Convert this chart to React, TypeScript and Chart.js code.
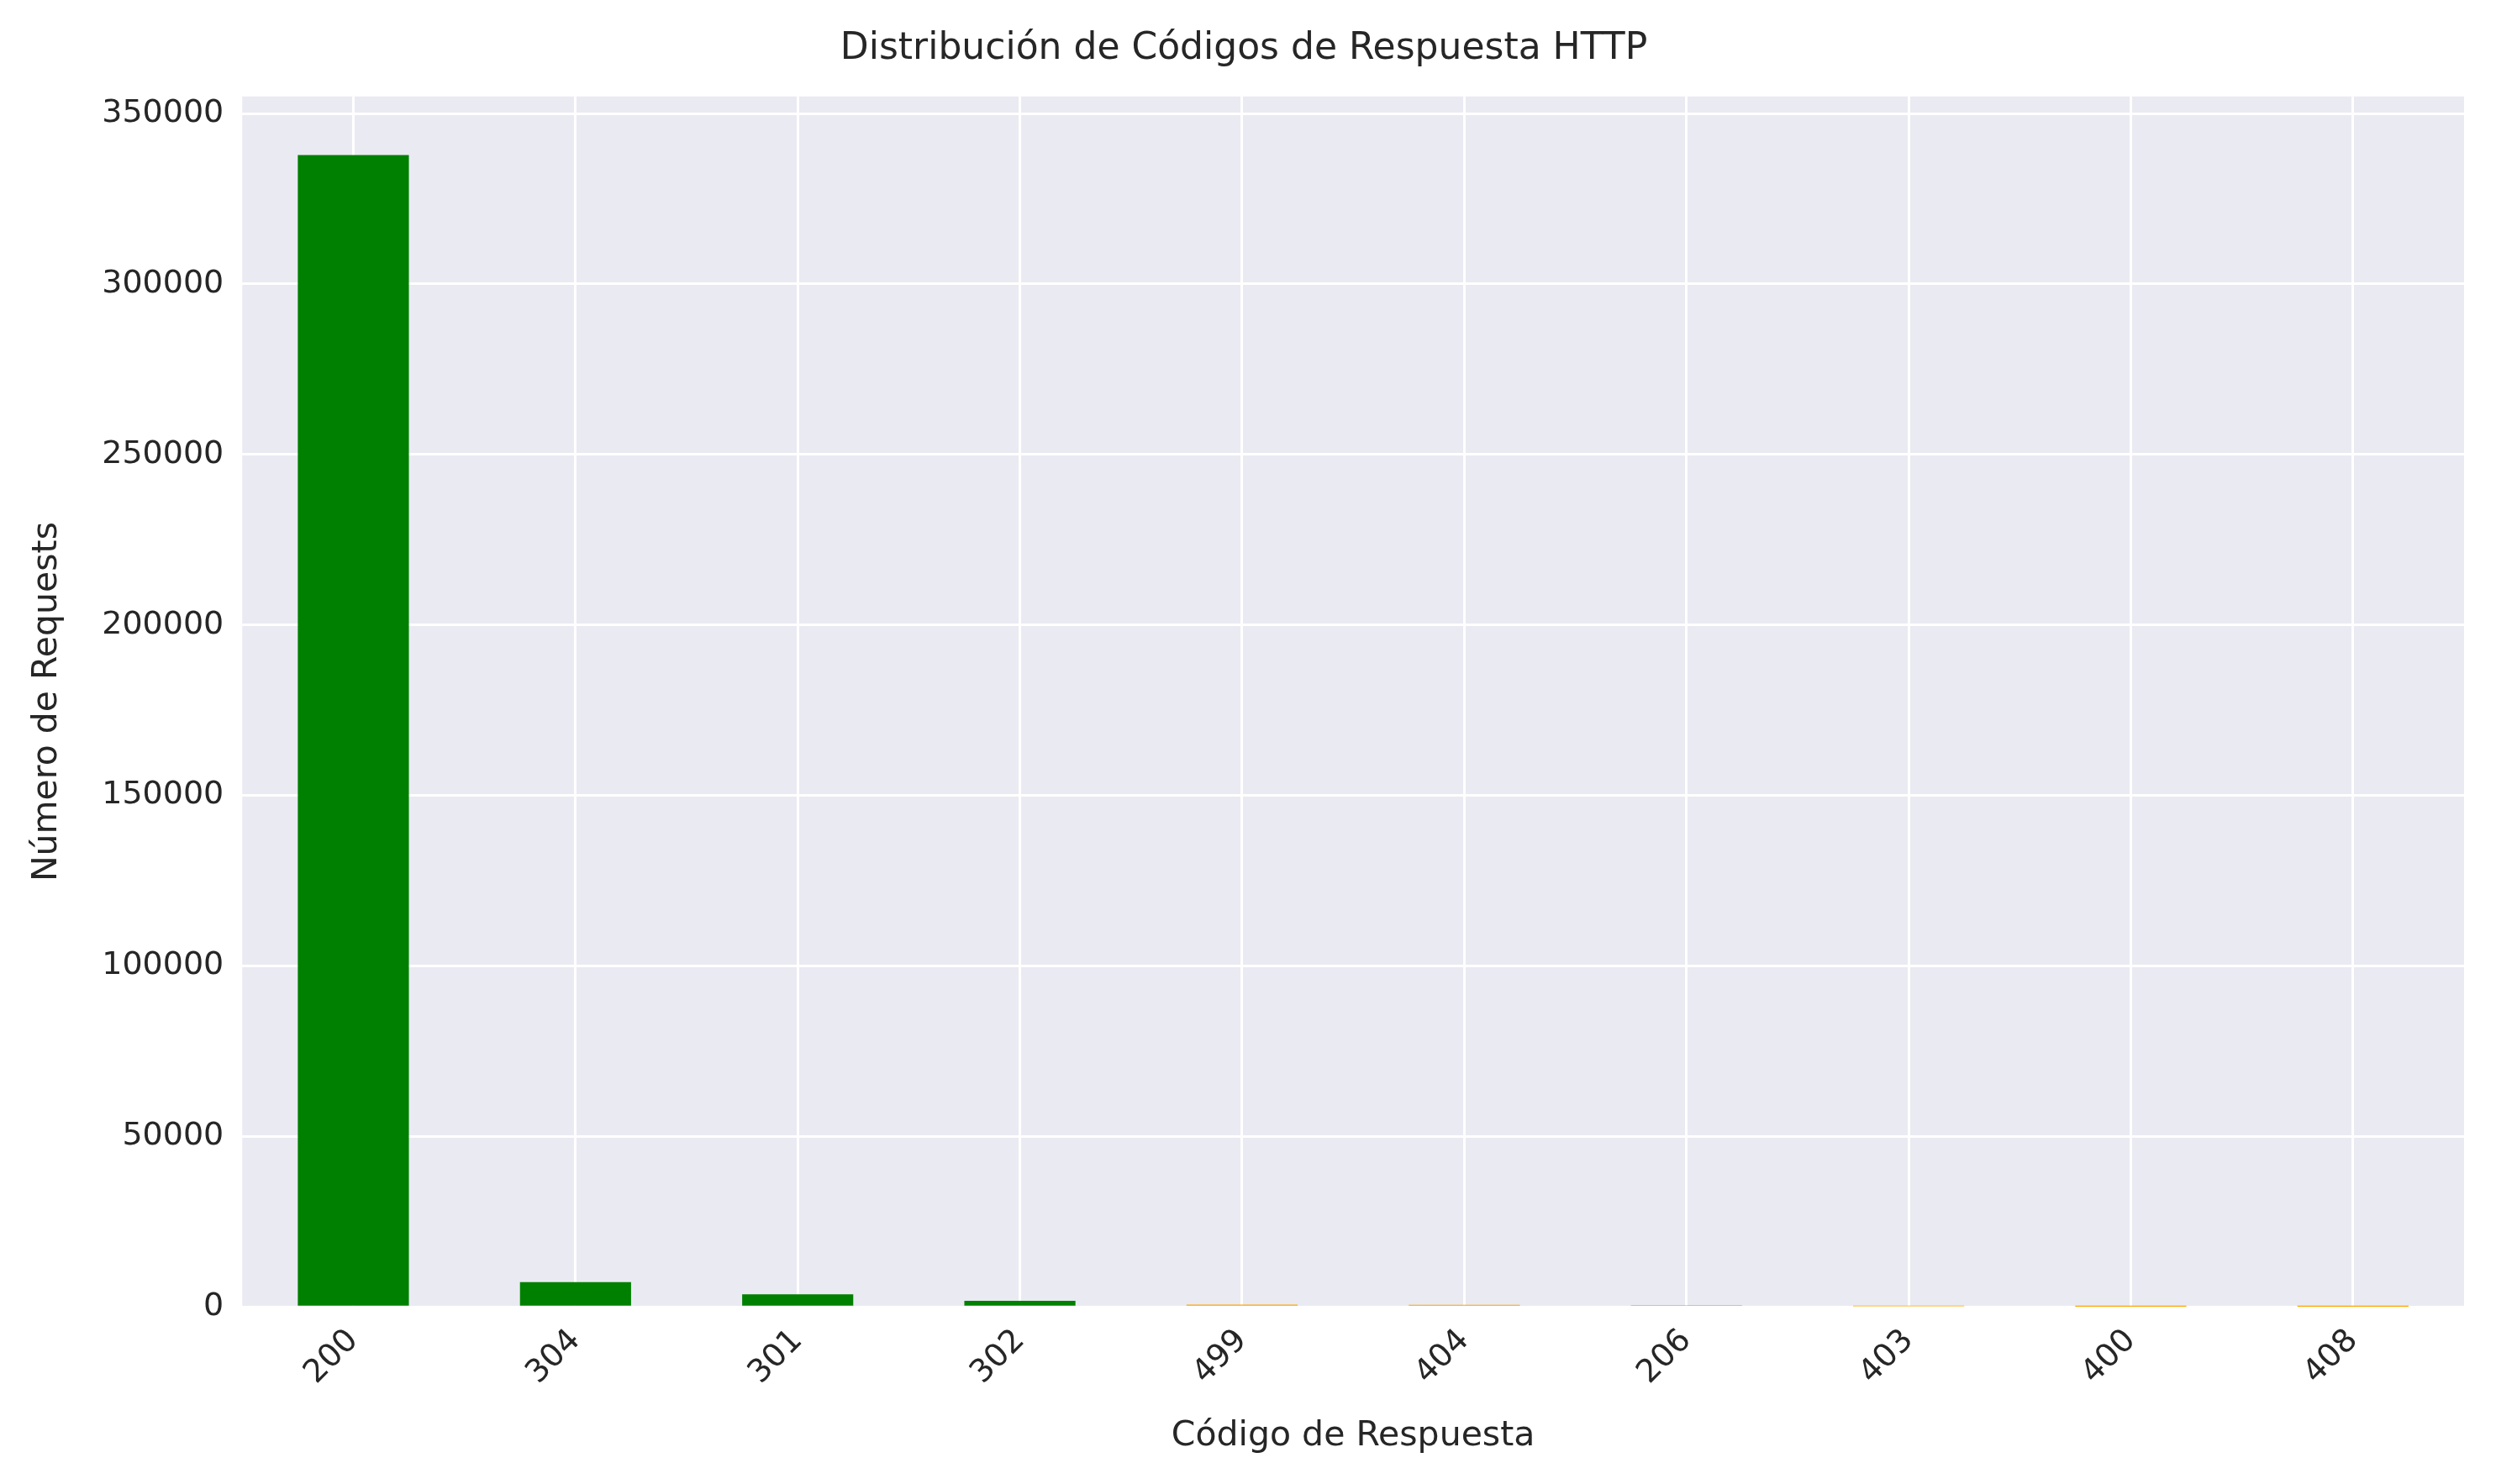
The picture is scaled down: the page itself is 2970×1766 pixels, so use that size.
import { useEffect, useRef } from "react";
import { Chart, registerables } from "chart.js";

Chart.register(...registerables);

const codes = ["200", "304", "301", "302", "499", "404", "206", "403", "400", "408"];
const counts = [337800, 7300, 3700, 1800, 700, 650, 300, 200, 60, 30];
const barColors = ["green", "green", "green", "green", "orange", "orange", "green", "orange", "orange", "orange"];
const yTicks = [0, 50000, 100000, 150000, 200000, 250000, 300000, 350000];

const plotBg = {
  id: "plotBg",
  beforeDraw(chart: Chart) {
    const { ctx, chartArea } = chart;
    ctx.save();
    ctx.fillStyle = "#EAEAF2";
    ctx.fillRect(chartArea.left, chartArea.top, chartArea.right - chartArea.left, chartArea.bottom - chartArea.top);
    ctx.restore();
  },
};

export default function App() {
  const canvasRef = useRef<HTMLCanvasElement | null>(null);

  useEffect(() => {
    const canvas = canvasRef.current;
    if (!canvas) return;
    const font = "'DejaVu Sans', sans-serif";
    const chart = new Chart(canvas, {
      type: "bar",
      data: {
        labels: codes,
        datasets: [{ data: counts, backgroundColor: barColors, categoryPercentage: 1, barPercentage: 0.5 }],
      },
      plugins: [plotBg],
      options: {
        animation: false,
        responsive: true,
        maintainAspectRatio: false,
        layout: { padding: { top: 10, right: 30, left: 20, bottom: 20 } },
        plugins: {
          legend: { display: false },
          tooltip: { enabled: false },
          title: {
            display: true,
            text: "Distribución de Códigos de Respuesta HTTP",
            color: "#262626",
            font: { family: font, size: 44, weight: "normal" },
            padding: { top: 14, bottom: 30 },
          },
        },
        scales: {
          x: {
            grid: { color: "#ffffff", lineWidth: 3, offset: false, drawTicks: false },
            border: { display: false },
            ticks: { color: "#262626", font: { family: font, size: 38 }, maxRotation: 45, minRotation: 45, padding: 18 },
            title: { display: true, text: "Código de Respuesta", color: "#262626", font: { family: font, size: 41 }, padding: { top: 10 } },
          },
          y: {
            min: 0,
            max: 355000,
            afterBuildTicks: (axis: any) => {
              axis.ticks = yTicks.map((v) => ({ value: v }));
            },
            grid: { color: "#ffffff", lineWidth: 3, drawTicks: false },
            border: { display: false },
            ticks: { color: "#262626", font: { family: font, size: 38 }, padding: 22, callback: (v: any) => String(v) },
            title: { display: true, text: "Número de Requests", color: "#262626", font: { family: font, size: 41 }, padding: { bottom: 18 } },
          },
        },
      },
    });
    return () => chart.destroy();
  }, []);

  return (
    <div style={{ width: 2954, height: 1750, background: "#fff" }}>
      <canvas ref={canvasRef} />
    </div>
  );
}
